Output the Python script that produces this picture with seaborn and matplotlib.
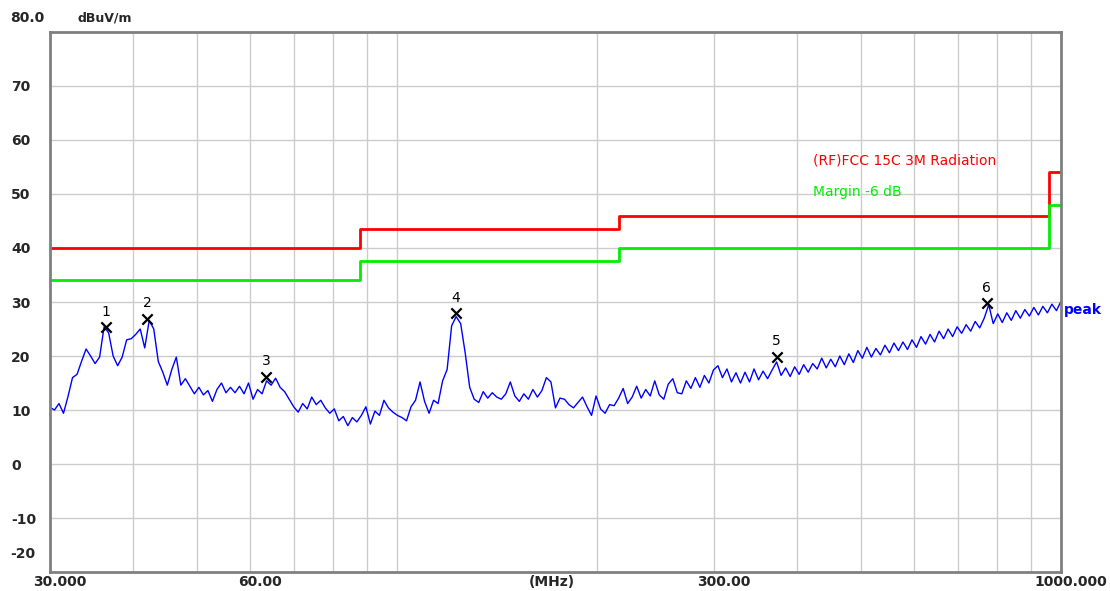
import numpy as np
import pandas as pd
import matplotlib.pyplot as plt
import matplotlib.transforms as mtransforms
import seaborn as sns

sns.set_style("white")
plt.rcParams['font.family'] = ['DejaVu Sans']

# measured peak trace (dBuV/m), sweep points spaced evenly on the log axis 30 - 1000 MHz
level = [
    10.5, 10.0, 11.2, 9.4, 12.5, 16.0, 16.6, 19.0, 21.3, 20.0,
    18.6, 19.8, 25.4, 24.3, 20.0, 18.2, 19.8, 23.0, 23.2, 24.0,
    25.0, 21.5, 26.6, 25.0, 19.0, 17.0, 14.6, 17.5, 19.8, 14.6,
    15.8, 14.4, 13.0, 14.2, 12.8, 13.6, 11.6, 13.8, 15.0, 13.2,
    14.2, 13.2, 14.4, 13.0, 15.0, 12.0, 13.8, 13.0, 15.4, 14.6,
    15.9, 14.2, 13.4, 12.0, 10.6, 9.6, 11.2, 10.2, 12.4, 11.0,
    11.8, 10.4, 9.4, 10.2, 8.0, 8.8, 7.1, 8.6, 7.8, 9.0,
    10.6, 7.4, 9.8, 9.0, 11.8, 10.4, 9.6, 9.0, 8.6, 8.0,
    10.6, 11.8, 15.2, 11.6, 9.4, 11.8, 11.2, 15.4, 17.5, 25.6,
    27.3, 26.0, 20.6, 14.2, 12.0, 11.4, 13.4, 12.2, 13.2, 12.4,
    12.0, 13.0, 15.2, 12.6, 11.6, 13.0, 12.0, 13.8, 12.4, 13.6,
    16.0, 15.2, 10.4, 12.2, 12.0, 11.0, 10.4, 11.4, 12.4, 10.6,
    9.0, 12.6, 10.2, 9.4, 11.0, 10.8, 12.2, 14.0, 11.2, 12.4,
    14.4, 12.2, 13.8, 12.6, 15.4, 12.8, 12.0, 14.8, 15.8, 13.2,
    13.0, 15.4, 14.0, 16.0, 14.2, 16.4, 15.0, 17.4, 18.2, 16.0,
    17.6, 15.2, 16.9, 15.0, 17.0, 15.2, 17.6, 15.6, 17.2, 15.8,
    17.4, 18.9, 16.4, 17.8, 16.2, 18.0, 16.6, 18.4, 17.0, 18.6,
    17.6, 19.6, 17.8, 19.4, 18.0, 20.0, 18.4, 20.4, 18.8, 21.0,
    19.6, 21.6, 19.8, 21.4, 20.2, 22.0, 20.6, 22.4, 21.0, 22.6,
    21.2, 23.0, 21.6, 23.6, 22.2, 24.0, 22.6, 24.6, 23.2, 25.0,
    23.6, 25.4, 24.2, 25.8, 24.6, 26.4, 25.2, 27.0, 29.5, 26.0,
    27.8, 26.2, 28.0, 26.6, 28.4, 27.0, 28.6, 27.4, 29.0, 27.6,
    29.2, 28.0, 29.6, 28.4, 30.1,
]
freq = np.geomspace(30, 1000, len(level))

# limit line and margin line
limit_freq = [30, 88, 216, 960, 1000]
limit_level = [40, 43.5, 46, 54, 54]
margin_level = [34, 37.5, 40, 48, 48]

# marked peaks
marker_no = ["1", "2", "3", "4", "5", "6"]
marker_freq = [36.4, 42.0, 63.5, 122.5, 373, 773]
marker_level = [25.4, 26.9, 16.2, 27.9, 19.9, 29.8]

yticks = [70, 60, 50, 40, 30, 20, 10, 0, -10]
xticks = [30, 60, 300, 1000]
xtick_labels = ["30.000", "60.00", "300.00", "1000.000"]
xgrid = [40, 50, 70, 80, 90, 100, 200, 400, 500, 600, 700, 800, 900]

df = pd.DataFrame({"freq": freq, "level": level})
lim = pd.DataFrame({"freq": limit_freq, "limit": limit_level, "margin": margin_level})
mk = pd.DataFrame({"freq": marker_freq, "level": marker_level})

fig = plt.figure(figsize=(11.1, 5.91), dpi=100)
ax = fig.add_axes([0.045, 0.0321, 0.9108, 0.9138])

sns.lineplot(data=lim, x="freq", y="limit", ax=ax, color="#ff0000", lw=2,
             drawstyle="steps-post", estimator=None)
sns.lineplot(data=lim, x="freq", y="margin", ax=ax, color="#00ee00", lw=2,
             drawstyle="steps-post", estimator=None)
sns.lineplot(data=df, x="freq", y="level", ax=ax, color="#0000ff", lw=1,
             estimator=None, sort=False)
sns.scatterplot(data=mk, x="freq", y="level", ax=ax, marker="x", s=55,
                color="black", linewidth=1.6, zorder=5)
for n, f, l in zip(marker_no, marker_freq, marker_level):
    ax.annotate(n, (f, l), xytext=(0, 6), textcoords="offset points",
                ha="center", va="bottom", fontsize=10, color="black")

ax.set_xscale("log")
ax.set_xlim(30, 1000)
ax.set_ylim(-20, 80)

# grid
ax.set_xticks(xticks)
ax.set_xticklabels(xtick_labels, fontsize=10, fontweight="bold")
ax.set_xticks(xgrid, minor=True)
ax.set_xticklabels([], minor=True)
ax.set_yticks(yticks)
ax.set_yticklabels([str(v) for v in yticks], fontsize=10, fontweight="bold")
ax.grid(True, which="both", axis="x", color="#cccccc", lw=1)
ax.grid(True, which="major", axis="y", color="#cccccc", lw=1)
ax.tick_params(axis="both", which="both", length=0)
ax.tick_params(axis="y", pad=28)
ax.tick_params(axis="x", pad=2)
for lbl in ax.get_yticklabels():
    lbl.set_horizontalalignment("left")
shift = mtransforms.ScaledTranslation(0.1, 0, fig.dpi_scale_trans)
for lbl in ax.get_xticklabels():
    lbl.set_transform(lbl.get_transform() + shift)
for s in ax.spines.values():
    s.set_color("#808080")
    s.set_linewidth(2)
ax.set_xlabel("")
ax.set_ylabel("")

# texts around the frame
trans = mtransforms.blended_transform_factory(fig.transFigure, ax.transData)
ax.text(0.009, 82.6, "80.0", transform=trans, fontsize=10, fontweight="bold",
        va="center", ha="left", clip_on=False)
ax.text(0.009, -16.7, "-20", transform=trans, fontsize=10, fontweight="bold",
        va="center", ha="left", clip_on=False)
fig.text(0.07, 1 - 18 / 591, "dBuV/m", fontsize=9, fontweight="bold", va="center")
ax.text(171, -20, "(MHz)", fontsize=10, fontweight="bold", ha="center", va="top",
        transform=ax.transData + mtransforms.ScaledTranslation(0, -0.03, fig.dpi_scale_trans),
        clip_on=False)

ax.text(0.732, 1 - 160 / 591, "(RF)FCC 15C 3M Radiation", transform=fig.transFigure,
        color="#ff0000", fontsize=10, va="center")
ax.text(0.732, 1 - 192 / 591, "Margin -6 dB", transform=fig.transFigure,
        color="#00ee00", fontsize=10, va="center")
ax.annotate("peak", (1000, 28.5), xytext=(2, 0), textcoords="offset points",
            color="#0000ff", fontsize=10, fontweight="bold", va="center", ha="left",
            annotation_clip=False)

plt.savefig("out.png", dpi=100)
